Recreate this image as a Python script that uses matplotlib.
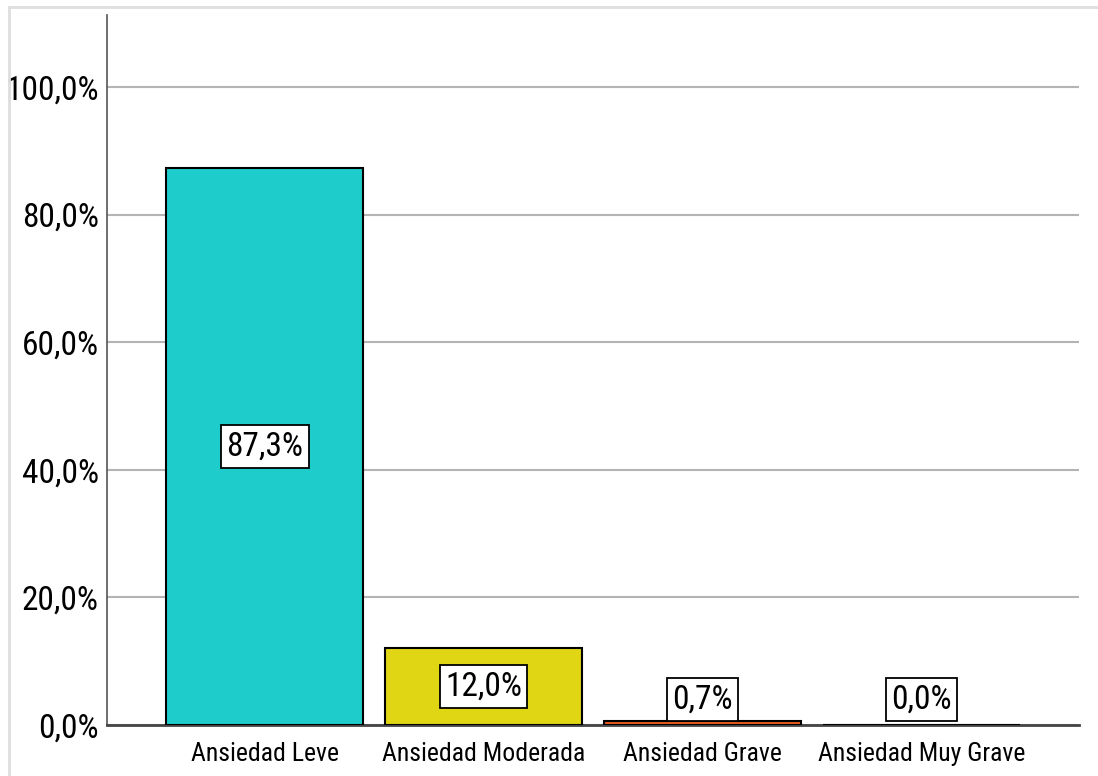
import matplotlib
matplotlib.use("Agg")
import matplotlib.pyplot as plt
from matplotlib.lines import Line2D

plt.rcParams['font.family'] = ['Roboto Condensed', 'DejaVu Sans']

categories = ['Ansiedad Leve', 'Ansiedad Moderada', 'Ansiedad Grave', 'Ansiedad Muy Grave']
percentages = [87.3, 12.0, 0.7, 0.0]
bar_colors = ['#1ecdcb', '#e1d614', '#ec5a1f', '#9e9e9e']
y_ticks = [0, 20, 40, 60, 80, 100]


def pct_label(v):
    return f"{v:.1f}%".replace('.', ',')


fig = plt.figure(figsize=(10.98, 7.76), dpi=100)
ax = fig.add_axes([0.0975, 0.0657, 0.8852, 0.915])

x = list(range(len(categories)))
ax.bar(x, percentages, width=0.9, color=bar_colors, edgecolor='black',
       linewidth=1.5, zorder=3)

# value boxes: centred in the bar, but kept above the baseline for short bars
for xi, v in zip(x, percentages):
    ax.text(xi, max(v / 2, 4.0), pct_label(v), ha='center', va='center',
            fontsize=24, zorder=4,
            bbox=dict(boxstyle='square,pad=0.16', facecolor='white',
                      edgecolor='black', linewidth=1.3))

ax.set_xlim(-0.72, 3.72)
ax.set_ylim(0, 111.3)
ax.set_yticks(y_ticks)
ax.set_yticklabels([pct_label(t) for t in y_ticks], fontsize=24)
ax.set_xticks(x)
ax.set_xticklabels(categories, fontsize=18.5)
ax.tick_params(axis='y', length=0, pad=6)
ax.tick_params(axis='x', length=0, pad=12)

ax.yaxis.grid(True, color='#b4b4b4', linewidth=1.5, zorder=0)
ax.set_axisbelow(True)
for side in ['top', 'right']:
    ax.spines[side].set_visible(False)
ax.spines['left'].set_color('#555555')
ax.spines['bottom'].set_color('#444444')
ax.spines['left'].set_linewidth(1.2)
ax.spines['bottom'].set_linewidth(2)

# thin frame along the top and left edges of the figure
fig.add_artist(Line2D([0.0082, 1], [0.991, 0.991], color='#dedede', linewidth=2,
                      transform=fig.transFigure))
fig.add_artist(Line2D([0.0082, 0.0082], [0, 0.991], color='#dedede', linewidth=2,
                      transform=fig.transFigure))

fig.savefig('out.png', dpi=100)
